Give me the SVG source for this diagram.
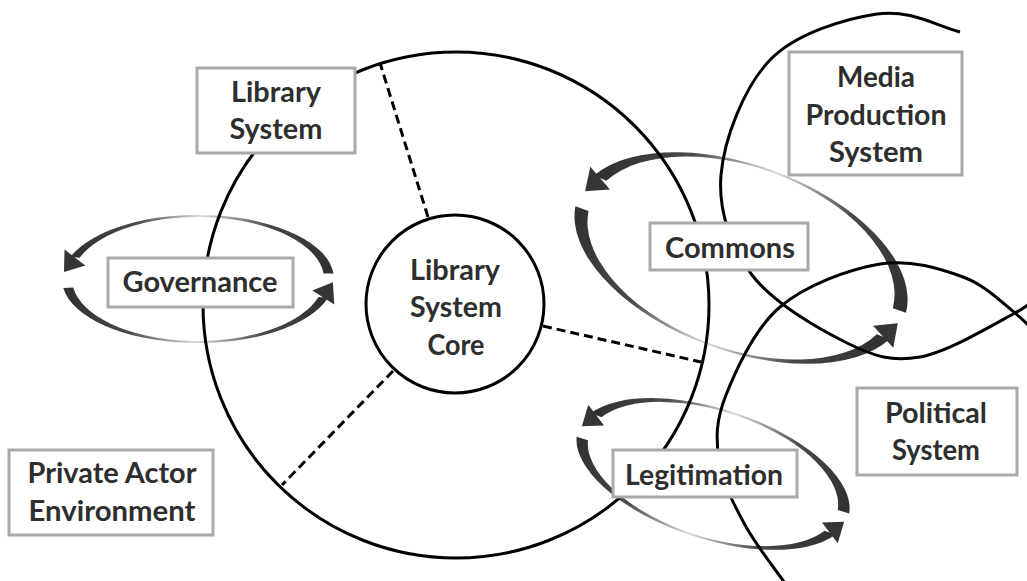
<svg xmlns="http://www.w3.org/2000/svg" width="1027" height="581" viewBox="0 0 1027 581">
  <style>
    .bound { fill: none; stroke: #000; stroke-width: 3; }
    .dash { fill: none; stroke: #000; stroke-width: 3; stroke-dasharray: 9 5; }
    .box { fill: #fff; stroke: #a9a9a9; stroke-width: 3; }
    .lbl { font-family: Lato, "Open Sans", "Liberation Sans", sans-serif; font-weight: bold; font-size: 28px; fill: #2e2e2e; text-anchor: middle; }
    .arc { fill: url(#cycGrad); }
    .head { fill: #353535; }
  </style>
  <defs>
    <linearGradient id="cycGrad" x1="0" y1="0" x2="1" y2="0">
      <stop offset="0" stop-color="#2f2f2f"/>
      <stop offset="0.25" stop-color="#4a4a4a"/>
      <stop offset="0.5" stop-color="#dcdcdc"/>
      <stop offset="0.75" stop-color="#4a4a4a"/>
      <stop offset="1" stop-color="#2f2f2f"/>
    </linearGradient>
  </defs>

  <!-- feedback cycles (two curved arrows each) -->
  <g id="cycle-governance" transform="translate(198,279)">
    <path class="arc" d="M 135.5,-5.6 A 136 64 0 0 0 -127.8,-21.9 L -118.4,-21.2 A 126 62 0 0 1 125.5,-5.4 Z"/>
    <polygon class="head" points="-112.7,-13.6 -133.5,-29.4 -134,-7.1"/>
    <path class="arc" d="M -134.7,8.9 A 136 64 0 0 0 130.1,18.7 L 120.5,18.1 A 126 62 0 0 1 -124.8,8.6 Z"/>
    <polygon class="head" points="136.3,25.4 114.3,11.4 134.9,3.2"/>
  </g>
  <g id="cycle-commons" transform="translate(741,258) rotate(20)">
    <path class="arc" d="M 173.8,-4.9 A 174 93 0 0 0 -166.4,-27.2 L -153,-26.6 A 160 91 0 0 1 159.8,-4.8 Z"/>
    <polygon class="head" points="-146.6,-19.6 -172.8,-34.2 -169.4,-9.4"/>
    <path class="arc" d="M -173.3,8.1 A 174 93 0 0 0 167.3,25.6 L 153.8,25.1 A 160 91 0 0 1 -159.4,7.9 Z"/>
    <polygon class="head" points="173.8,32.3 147.2,18.5 169.7,7.7"/>
  </g>
  <g id="cycle-legitimation" transform="translate(713,474) rotate(18)">
    <path class="arc" d="M 141.7,-4.5 A 142 65 0 0 0 -135.1,-20.1 L -123.6,-19.5 A 130 63 0 0 1 129.7,-4.4 Z"/>
    <polygon class="head" points="-118.6,-12.4 -140,-27.2 -139.5,-5"/>
    <path class="arc" d="M -141.2,6.8 A 142 65 0 0 0 135.1,20.1 L 123.6,19.5 A 130 63 0 0 1 -129.3,6.6 Z"/>
    <polygon class="head" points="140,27.2 118.6,12.4 139.5,5"/>
  </g>

  <!-- system boundaries -->
  <g id="boundaries">
    <circle class="bound" cx="456" cy="305" r="253"/>
    <path class="bound" d="M 960,32 C 934.5,24.7 908.7,9.3 877,14 C 845.3,18.7 796,33.2 770,60 C 744,86.8 724,139.2 721,175 C 718,210.8 731,247 752,275 C 773,303 819,329.3 847,343 C 875,356.7 892,362 920,357 C 948,352 995,323.8 1015,313 C 1035,302.2 1032.5,299.5 1040,292"/>
    <path class="bound" d="M 790,590 C 778.3,573.3 756.8,546.7 745,525 C 733.2,503.3 722.2,481.7 719,460 C 715.8,438.3 715.8,420.5 726,395 C 736.2,369.5 754.3,328.8 780,307 C 805.7,285.2 849.5,269 880,264 C 910.5,259 940.5,268.8 963,277 C 985.5,285.2 1002.2,302.8 1015,313 C 1027.8,323.2 1035,333 1040,338"/>
  </g>

  <!-- dashed links from the core -->
  <g id="connectors">
    <line class="dash" x1="428" y1="217" x2="380" y2="63"/>
    <line class="dash" x1="543" y1="326" x2="701" y2="362"/>
    <line class="dash" x1="393" y1="371" x2="282" y2="485"/>
  </g>

  <g id="core">
    <circle class="bound" fill="#fff" cx="455" cy="304" r="89"/>
    <text class="lbl" x="455" y="280" textLength="90" lengthAdjust="spacingAndGlyphs">Library</text>
    <text class="lbl" x="456" y="317" textLength="92" lengthAdjust="spacingAndGlyphs">System</text>
    <text class="lbl" x="456" y="355" textLength="57" lengthAdjust="spacingAndGlyphs">Core</text>
  </g>

  <g id="library-system">
    <rect class="box" x="197" y="68" width="158" height="85"/>
    <text class="lbl" x="276" y="102" textLength="90" lengthAdjust="spacingAndGlyphs">Library</text>
    <text class="lbl" x="276" y="139" textLength="93" lengthAdjust="spacingAndGlyphs">System</text>
  </g>
  <g id="governance">
    <rect class="box" x="108" y="258" width="185" height="49"/>
    <text class="lbl" x="200" y="292" textLength="155" lengthAdjust="spacingAndGlyphs">Governance</text>
  </g>
  <g id="commons">
    <rect class="box" x="650" y="223" width="158" height="47"/>
    <text class="lbl" x="730" y="258" textLength="130" lengthAdjust="spacingAndGlyphs">Commons</text>
  </g>
  <g id="media-production-system">
    <rect class="box" x="789" y="52" width="173" height="123"/>
    <text class="lbl" x="876" y="87" textLength="78" lengthAdjust="spacingAndGlyphs">Media</text>
    <text class="lbl" x="876" y="125" textLength="141" lengthAdjust="spacingAndGlyphs">Production</text>
    <text class="lbl" x="876" y="162" textLength="94" lengthAdjust="spacingAndGlyphs">System</text>
  </g>
  <g id="legitimation">
    <rect class="box" x="613" y="450" width="184" height="47"/>
    <text class="lbl" x="704" y="485" textLength="158" lengthAdjust="spacingAndGlyphs">Legitimation</text>
  </g>
  <g id="political-system">
    <rect class="box" x="857" y="388" width="160" height="87"/>
    <text class="lbl" x="936" y="423" textLength="102" lengthAdjust="spacingAndGlyphs">Political</text>
    <text class="lbl" x="936" y="460" textLength="88" lengthAdjust="spacingAndGlyphs">System</text>
  </g>
  <g id="private-actor-environment">
    <rect class="box" x="9" y="450" width="204" height="85"/>
    <text class="lbl" x="112" y="483" textLength="169" lengthAdjust="spacingAndGlyphs">Private Actor</text>
    <text class="lbl" x="112" y="521" textLength="167" lengthAdjust="spacingAndGlyphs">Environment</text>
  </g>
</svg>
